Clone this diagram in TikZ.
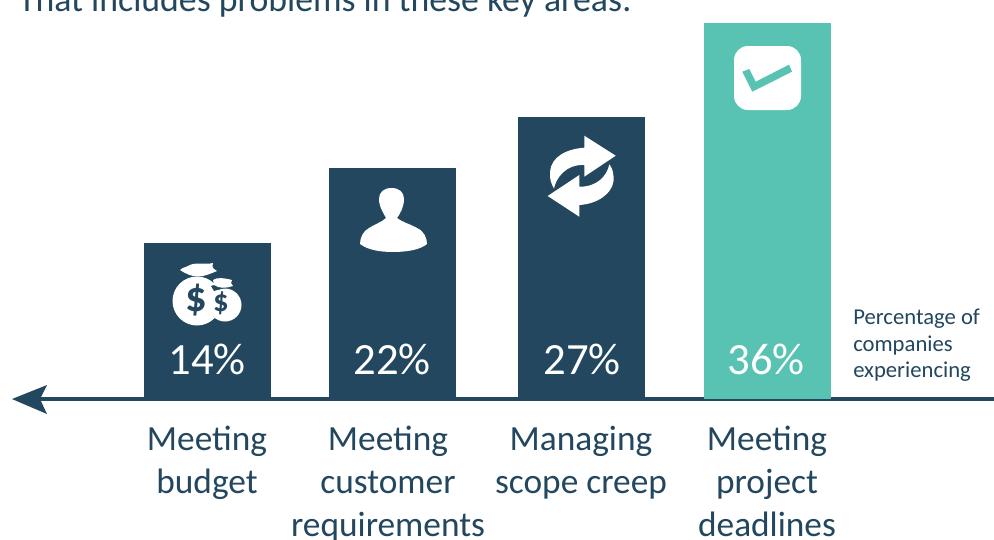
\documentclass[tikz,border=0pt]{standalone}
\usepackage{fontspec}
\setmainfont{Carlito}
\definecolor{navy}{HTML}{22475E}
\definecolor{teal2}{HTML}{58C3B3}
\tikzset{
  x=0.75pt,y=-0.75pt,
  bar/.style={fill=navy,draw=none},
  icon/.style={fill=white,draw=none},
  pct/.style={anchor=base,text=white,inner sep=0pt,font=\fontsize{33.500}{33.500}\selectfont},
  cat/.style={anchor=base,text=navy,inner sep=0pt,font=\fontsize{26.500}{26.500}\selectfont},
  side/.style={anchor=base west,text=navy,inner sep=0pt,font=\fontsize{17}{17}\selectfont},
  axisline/.style={draw=navy,line width=3pt}
}
\begin{document}
\begin{tikzpicture}
\useasboundingbox (0,0) rectangle (994,539);
\fill[white] (0,0) rectangle (994,539);
\node[anchor=base west,text=navy,inner sep=0pt,font=\fontsize{26.800}{26.800}\selectfont] (head) at (18,12) {That includes problems in these key areas:};
% axis
\coordinate (axisR) at (994,399);
\coordinate (axisL) at (36,399);
\draw[axisline] (axisL) -- (axisR);
\fill[navy] (12,399) -- (47,385) -- (40,399) -- (47,414) -- cycle;
% bars
\fill[bar] (144,243) rectangle (271,399);
\fill[bar] (329,168) rectangle (456,399);
\fill[bar] (518,117) rectangle (645,399);
\fill[teal2] (704,23) rectangle (831,399);
% money
\fill[icon] (197,301) circle (24.5);
\fill[icon] (225,305) circle (16.5);
\fill[navy] (211,286) .. controls (215,284) and (220,285) .. (224,288) -- (214,291) -- cycle;
\fill[icon] (180,270) .. controls (184,266) and (187,268) .. (190,265) .. controls (196,262) and (206,265) .. (213,263) .. controls (212,267) and (212,268) .. (217,271) .. controls (210,274) and (204,276.500) .. (198,276.500) .. controls (192,276.500) and (186,274) .. (180,270) -- cycle;
\fill[icon] (213,280) .. controls (217,277) and (224,278) .. (232,280) .. controls (230,282) and (231,284) .. (233,286) .. controls (226,288.500) and (219,288.500) .. (214,285) -- cycle;
\node[anchor=center,inner sep=0pt,text=navy,font=\fontsize{32}{32}\selectfont\bfseries] (d1) at (196,300) {\$};
\node[anchor=center,inner sep=0pt,text=navy,font=\fontsize{23}{23}\selectfont\bfseries] (d2) at (221,303) {\$};
% person
\fill[icon] (391.5,188) .. controls (384,188) and (379,192) .. (379,199) .. controls (379,207) and (384,214) .. (386,218) .. controls (382,222) and (375,224) .. (369,228) .. controls (363,231) and (360,238) .. (360,244) .. controls (368,250) and (380,252) .. (393,252) .. controls (406,252) and (420,250) .. (427,244) .. controls (427,238) and (424,231) .. (417,228) .. controls (410,224) and (402,222) .. (397,218) .. controls (400,214) and (404,207) .. (404,199) .. controls (404,192) and (399,188) .. (391.5,188) -- cycle;
% refresh
\fill[icon] (615.7,155.7) -- (584.3,135.7) -- (584.3,147.7) .. controls (566,149) and (551,157) .. (550,172) .. controls (549.500,178) and (551,184) .. (554,188.500) .. controls (556,178) and (566,164) .. (584.3,165) -- (584.3,176.7) -- cycle;
\fill[icon] (547.7,196) -- (579.3,216.7) -- (579.3,205) .. controls (597,204) and (612,194) .. (613.500,181) .. controls (614,174) and (612.500,168) .. (609.300,164.300) .. controls (607,176) and (597,187) .. (579.3,186.700) -- (579.3,175) -- cycle;
% check
\fill[icon,rounded corners=10.5] (734,46) rectangle (801,110);
\fill[teal2] (742.3,71.7) -- (749.3,69) -- (755.7,81.7) -- (789,64.7) -- (792,71.7) -- (752.3,91.7) -- cycle;
% percentages
\node[pct] (p1) at (207,374) {14\%};
\node[pct] (p2) at (392,374) {22\%};
\node[pct] (p3) at (582,374) {27\%};
\node[pct] (p4) at (766,374) {36\%};
% side
\node[side] (s1) at (853,324) {Percentage of};
\node[side] (s2) at (853,351) {companies};
\node[side] (s3) at (853,377) {experiencing};
% categories
\node[cat] (a1) at (207,450) {Meeting};
\node[cat] (a2) at (207,493) {budget};
\node[cat] (b1) at (388,450) {Meeting};
\node[cat] (b2) at (388,493) {customer};
\node[cat] (b3) at (388,536) {requirements};
\node[cat] (c1) at (581,450) {Managing};
\node[cat] (c2) at (581,493) {scope creep};
\node[cat] (e1) at (767,450) {Meeting};
\node[cat] (e2) at (767,493) {project};
\node[cat] (e3) at (767,536) {deadlines};
\end{tikzpicture}
\end{document}
